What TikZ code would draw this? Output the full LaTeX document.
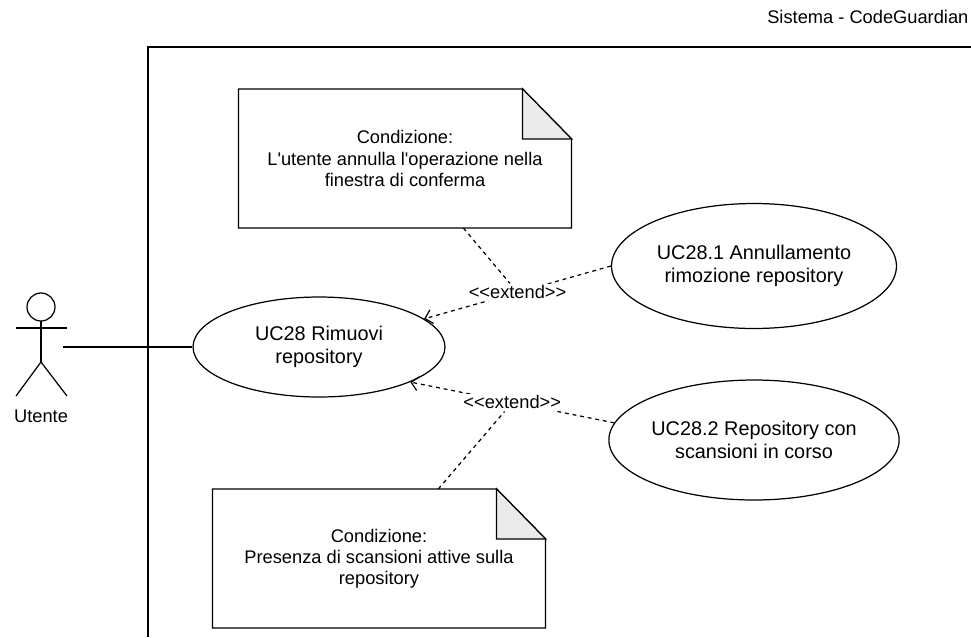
\documentclass[tikz,border=0pt]{standalone}
\usepackage{fontspec}
\setmainfont{Liberation Sans}
\usepackage{xcolor}
\usetikzlibrary{calc, shapes.geometric, positioning, arrows.meta}

\definecolor{foldgray}{HTML}{EBEBEB}

\begin{document}
\begin{tikzpicture}[x=0.02cm, y=-0.02cm, line width=0.7pt,
    usecase/.style={draw, ellipse, inner sep=0pt, align=center,
        font=\fontsize{11.3}{13.4}\selectfont},
    notebox/.style={minimum width=6.64cm, minimum height=2.76cm,
        inner sep=0pt, align=center, font=\fontsize{10.4}{12}\selectfont},
    extline/.style={dash pattern=on 2.2pt off 2.2pt,
        -{Straight Barb[length=4pt,width=8pt]}},
    noteline/.style={dash pattern=on 2.2pt off 2.2pt},
    extlabel/.style={fill=white, inner sep=1pt, font=\fontsize{10.4}{12}\selectfont}]

    \useasboundingbox (0,0) rectangle (971,637);

    % =================================================================
    % 1. CONFINE DEL SISTEMA
    % =================================================================
    \draw (971,47) -- (148,47) -- (148,637);
    \node[anchor=east, inner sep=0pt, font=\fontsize{10.4}{12}\selectfont] (sys) at (969,17) {Sistema - CodeGuardian};

    % =================================================================
    % 2. ATTORE
    % =================================================================
    \draw (41,307) circle[radius=0.28cm];
    \draw (41,321) -- (41,362);
    \draw (16,328) -- (67,328);
    \draw (16,396) -- (41,362) -- (67,396);
    \coordinate (act) at (63,347);
    \node[font=\fontsize{10.4}{12}\selectfont] (utente) at (41,416) {Utente};

    % =================================================================
    % 3. CASI D'USO
    % =================================================================
    \node[usecase, minimum width=5.04cm, minimum height=2cm] (uc28) at (319,347) {UC28 Rimuovi\\repository};
    \node[usecase, minimum width=5.7cm, minimum height=2.5cm] (uc281) at (754,266) {UC28.1 Annullamento\\rimozione repository};
    \node[usecase, minimum width=5.7cm, minimum height=2.4cm] (uc282) at (754,440) {UC28.2 Repository con\\scansioni in corso};

    \draw (act) -- (uc28.west);

    % =================================================================
    % 4. RELAZIONI EXTEND
    % =================================================================
    \draw[extline] (uc281.west) -- node[extlabel] (ext1) {{<}{<}extend{>}{>}} (uc28.15);
    \draw[extline] (uc282.173) -- node[extlabel] (ext2) {{<}{<}extend{>}{>}} (uc28.-21);

    % =================================================================
    % 5. NOTE CON CONDIZIONI
    % =================================================================
    \node[notebox] (n1) at (405,158.5) {Condizione:\\L\textquotesingle utente annulla l\textquotesingle operazione nella\\finestra di conferma};
    \draw (n1.north west) -- ($(n1.north east)+(-49,0)$) -- ($(n1.north east)+(0,50)$)
        -- (n1.south east) -- (n1.south west) -- cycle;
    \filldraw[fill=foldgray] ($(n1.north east)+(-49,0)$) -- ($(n1.north east)+(-49,50)$)
        -- ($(n1.north east)+(0,50)$) -- cycle;

    \node[notebox] (n2) at (379,558.5) {Condizione:\\Presenza di scansioni attive sulla\\repository};
    \draw (n2.north west) -- ($(n2.north east)+(-49,0)$) -- ($(n2.north east)+(0,50)$)
        -- (n2.south east) -- (n2.south west) -- cycle;
    \filldraw[fill=foldgray] ($(n2.north east)+(-49,0)$) -- ($(n2.north east)+(-49,50)$)
        -- ($(n2.north east)+(0,50)$) -- cycle;

    \draw[noteline] (n1) -- (ext1);
    \draw[noteline] (n2) -- (ext2);

\end{tikzpicture}
\end{document}
